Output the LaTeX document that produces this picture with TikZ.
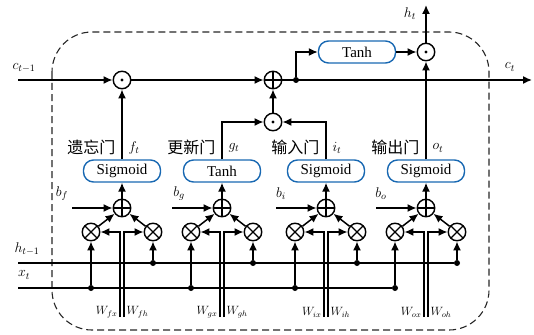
\RequirePackage{fix-cm}
\documentclass[tikz,border=0pt]{standalone}
\usepackage{amsmath}
\usepackage{fontspec}
\setmainfont{Liberation Serif}
\newfontfamily\cjk{Noto Sans CJK SC}
\usetikzlibrary{arrows.meta}

\definecolor{gateblue}{RGB}{24,104,178}

\tikzset{
  wire/.style={line width=1.5pt},
  arr/.style={wire,-{Latex[length=9pt,width=8pt]}},
  op/.style={circle,draw,line width=1.4pt,minimum size=17.5pt,inner sep=0pt},
  sumop/.style={op,path picture={
      \draw[line width=1.2pt] (path picture bounding box.north) -- (path picture bounding box.south)
        (path picture bounding box.west) -- (path picture bounding box.east);}},
  mulop/.style={op,path picture={
      \draw[line width=1.2pt] (path picture bounding box.north west) -- (path picture bounding box.south east)
        (path picture bounding box.south west) -- (path picture bounding box.north east);}},
  hadop/.style={op,path picture={
      \fill (path picture bounding box.center) circle (1.7pt);}},
  actbox/.style={draw=gateblue,line width=1.4pt,rounded corners=10pt,minimum width=77pt,
    minimum height=22pt,inner sep=0pt,font=\fontsize{15}{17}\selectfont},
  junc/.style={circle,fill,inner sep=0pt,minimum size=6pt},
  cnlabel/.style={font=\cjk\fontsize{16}{18}\selectfont},
  wlabel/.style={font=\fontsize{12}{14}\selectfont,inner sep=1pt}
}

\begin{document}
\begin{tikzpicture}[x=1pt,y=-1pt,font=\fontsize{14}{16}\selectfont]
\useasboundingbox (0,0) rectangle (534,334);

% cell border
\draw[black!85,line width=1.1pt,dash pattern=on 7pt off 4pt,rounded corners=40pt]
  (52,32) rectangle (489,330);

% four gates
\foreach \n/\x/\bx/\txt/\cn in {f/122/62/Sigmoid/遗忘门, g/222/179/Tanh/更新门,
    i/326/281/Sigmoid/输入门, o/426/381/Sigmoid/输出门}{
  \node[actbox] (a\n) at (\x,171) {\txt};
  \node[sumop] (s\n) at (\x,208) {};
  \node[mulop] (px\n) at (\x-31,232) {};
  \node[mulop] (ph\n) at (\x+31,232) {};
  \node[junc] (jx\n) at (\x-31,288) {};
  \node[junc] (jh\n) at (\x+31,263) {};
  \coordinate (b\n) at (\x-50,208);
  \coordinate (wl\n) at (\x-2.2,317);
  \coordinate (wr\n) at (\x+2.2,317);
  \node (lb\n) at (\bx,194) {$b_\n$};
  \node[cnlabel,anchor=east] (lc\n) at (\x-3,147) {\cn};
  \node[anchor=west] (lv\n) at (\x+3,148) {$\n_t$};
  \node[wlabel,anchor=east] (lwx\n) at (\x-3.5,312) {$W_{\n x}$};
  \node[wlabel,anchor=west] (lwh\n) at (\x+3.5,312) {$W_{\n h}$};
  \draw[arr] (b\n) -- (s\n);
  \draw[arr] (px\n) -- (s\n);
  \draw[arr] (ph\n) -- (s\n);
  \draw[arr] (s\n) -- (a\n);
  \draw[arr] (jx\n) -- (px\n);
  \draw[arr] (jh\n) -- (ph\n);
  \draw[arr] (wl\n) |- (px\n);
  \draw[arr] (wr\n) |- (ph\n);
}

% cell state and output
\node[hadop] (mf) at (122,80) {};
\node[sumop] (sc) at (273,80) {};
\node[hadop] (mi) at (273,122) {};
\node[hadop] (mo) at (426,52) {};
\node[actbox] (tc) at (357,52) {Tanh};
\node[junc] (jc) at (296,80) {};

\coordinate (cin) at (18,80);
\coordinate (cout) at (532,80);
\coordinate (hout) at (426,5);
\coordinate (hin) at (18,263);
\coordinate (xin) at (18,288);

\node (lcin) at (24,68) {$c_{t-1}$};
\node (lcout) at (510,67) {$c_t$};
\node (lhout) at (410,14) {$h_t$};
\node (lhin) at (27,249) {$h_{t-1}$};
\node (lxin) at (24,275) {$x_t$};

\draw[arr] (cin) -- (mf);
\draw[arr] (mf) -- (sc);
\draw[arr] (sc) -- (cout);
\draw[arr] (af) -- (mf);
\draw[arr] (ag) |- (mi);
\draw[arr] (ai) |- (mi);
\draw[arr] (mi) -- (sc);
\draw[arr] (ao) -- (mo);
\draw[arr] (jc) |- (tc);
\draw[arr] (tc) -- (mo);
\draw[arr] (mo) -- (hout);
\draw[wire] (hin) -- (jho);
\draw[wire] (xin) -- (jxo);
\end{tikzpicture}
\end{document}
